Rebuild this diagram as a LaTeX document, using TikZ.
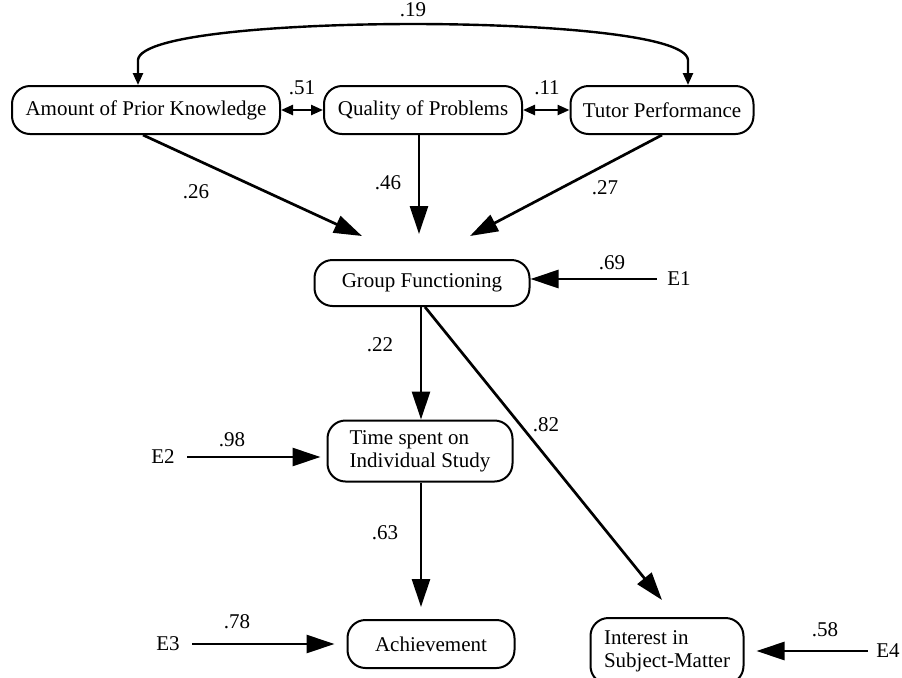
\documentclass[tikz,border=0pt]{standalone}
\usepackage{fontspec}
\setmainfont{Liberation Serif}
\usetikzlibrary{arrows.meta}

\begin{document}
\begin{tikzpicture}[x=0.5pt,y=-0.5pt,
	var/.style={draw, line width=1pt, rounded corners=9pt, inner sep=2pt, font=\fontsize{10.5}{11.5}\selectfont},
	coef/.style={inner sep=1pt, font=\fontsize{10.5}{11.5}\selectfont},
	effect/.style={line width=1.35pt, -{Triangle[length=14pt,width=9pt]}},
	cov/.style={line width=1.2pt, {Triangle[length=6pt,width=5pt]}-{Triangle[length=6pt,width=5pt]}}]
	\useasboundingbox (0,0) rectangle (902,677);

	\node[var, minimum width=134pt, minimum height=24pt] (prior) at (146,110) {Amount of Prior Knowledge};
	\node[var, minimum width=99pt, minimum height=24pt] (quality) at (423,110) {Quality of Problems};
	\node[var, minimum width=91.5pt, minimum height=24pt] (tutor) at (662,110) {Tutor Performance};
	\node[var, minimum width=107.5pt, minimum height=23pt] (group) at (422,283) {Group Functioning};
	\node[var, minimum width=92.5pt, minimum height=30.5pt, align=left] (study) at (420,451) {Time spent on\\Individual Study};
	\node[var, minimum width=83.5pt, minimum height=24pt] (achieve) at (431,644) {Achievement};
	\node[var, minimum width=76.5pt, minimum height=33pt, align=left] (interest) at (667,651) {Interest in\\Subject-Matter};

	\node[coef] (e1) at (679,279) {E1};
	\node[coef] (e2) at (163,457) {E2};
	\node[coef] (e3) at (168,644) {E3};
	\node[coef] (e4) at (888,651) {E4};

	\coordinate (top1) at (138,60);
	\coordinate (top2) at (688,60);
	\coordinate (gin1) at (362,236);
	\coordinate (gin2) at (419,234);
	\coordinate (gin3) at (470,236);
	\coordinate (sub) at (662,600);

	\draw[cov] (prior.north -| top1) -- (top1) .. controls (140,34) and (290,24) .. (413,24) .. controls (536,24) and (686,34) .. (top2) -- (tutor.north -| top2);
	\draw[cov] (prior) -- (quality);
	\draw[cov] (quality) -- (tutor);

	\draw[effect] (prior.south -| 143,0) -- (gin1);
	\draw[effect] (quality.south -| gin2) -- (gin2);
	\draw[effect] (tutor.south) -- (gin3);
	\draw[effect, shorten <=4pt] (e1.west) -- (group.east |- e1.west);
	\draw[effect] (group.south -| 421,0) -- (study.north -| 421,0);
	\draw[effect] (group.south -| 425,0) -- (sub);
	\draw[effect, shorten <=5pt, shorten >=3pt] (e2.east) -- (study.west |- e2.east);
	\draw[effect, shorten >=6pt] (study.south -| 421,0) -- (achieve.north -| 421,0);
	\draw[effect, shorten <=5pt, shorten >=6pt] (e3.east) -- (achieve.west |- e3.east);
	\draw[effect, shorten <=3pt, shorten >=6pt] (e4.west) -- (interest.east |- e4.west);

	\node[coef] (c19) at (413,10) {.19};
	\node[coef] (c51) at (302,88) {.51};
	\node[coef] (c11) at (547,88) {.11};
	\node[coef] (c26) at (196,192) {.26};
	\node[coef] (c46) at (388,183) {.46};
	\node[coef] (c27) at (605,188) {.27};
	\node[coef] (c69) at (612,263) {.69};
	\node[coef] (c22) at (380,345) {.22};
	\node[coef] (c98) at (232,440) {.98};
	\node[coef] (c82) at (546,425) {.82};
	\node[coef] (c63) at (385,533) {.63};
	\node[coef] (c78) at (237,622) {.78};
	\node[coef] (c58) at (825,630) {.58};
\end{tikzpicture}
\end{document}
